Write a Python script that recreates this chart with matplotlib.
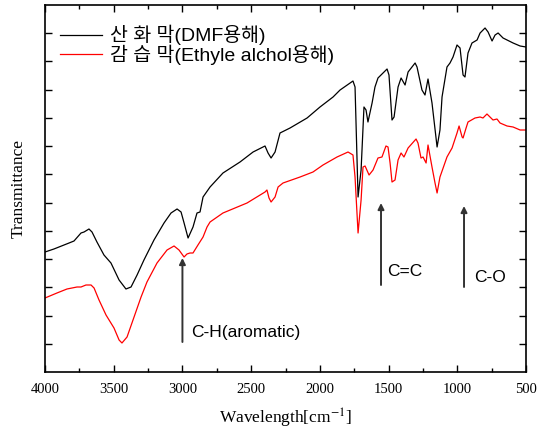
import numpy as np
import matplotlib

matplotlib.use("Agg")
import matplotlib.pyplot as plt

plt.rcParams["mathtext.fontset"] = "stix"

# FT-IR spectra, transmittance in arbitrary units
wn_dmf = [4000, 3935, 3825, 3789, 3738, 3716, 3680, 3658, 3622, 3571, 3520,
          3461, 3411, 3374, 3330, 3280, 3207, 3134, 3083, 3039, 3010, 2988,
          2959, 2923, 2894, 2872, 2850, 2799, 2705, 2581, 2486, 2399, 2377,
          2355, 2326, 2290, 2217, 2093, 1999, 1904, 1853, 1759, 1744, 1722,
          1700, 1679, 1664, 1650, 1620, 1599, 1577, 1511, 1497, 1475, 1460,
          1431, 1409, 1380, 1358, 1307, 1293, 1257, 1235, 1213, 1184, 1147,
          1126, 1111, 1075, 1053, 1031, 1002, 980, 958, 944, 922, 893, 856,
          834, 798, 776, 747, 725, 703, 667, 594, 543, 500]
t_dmf = [120, 123, 129, 131, 139, 140, 143, 140, 130, 117, 109,
         92, 83, 85, 97, 112, 132, 149, 159, 163, 160, 149,
         134, 145, 159, 160, 175, 185, 199, 210, 220, 226, 219,
         214, 220, 239, 244, 254, 265, 275, 282, 291, 285, 175,
         202, 265, 262, 250, 269, 285, 294, 303, 297, 252, 255,
         285, 294, 287, 300, 309, 305, 282, 277, 293, 269, 225,
         242, 275, 305, 309, 315, 327, 324, 297, 295, 319, 329, 332,
         339, 344, 340, 331, 337, 339, 334, 329, 326, 325]

wn_eth = [4000, 3913, 3840, 3767, 3738, 3702, 3665, 3643, 3607, 3556, 3498,
          3461, 3440, 3403, 3352, 3301, 3258, 3185, 3112, 3061, 3025, 2988,
          2967, 2945, 2923, 2887, 2850, 2821, 2799, 2705, 2530, 2399, 2385,
          2370, 2355, 2326, 2304, 2268, 2144, 2050, 1977, 1875, 1795, 1759,
          1744, 1722, 1700, 1686, 1671, 1642, 1613, 1577, 1548, 1519, 1504,
          1489, 1475, 1453, 1431, 1409, 1388, 1358, 1300, 1286, 1264, 1249,
          1227, 1213, 1184, 1162, 1147, 1126, 1075, 1038, 1002, 987, 965,
          958, 936, 922, 871, 834, 813, 784, 762, 740, 711, 689, 638, 594,
          543, 500]
t_eth = [74, 79, 83, 85, 85, 87, 87, 84, 72, 57, 44,
         32, 29, 35, 55, 75, 90, 109, 122, 126, 122, 115,
         118, 119, 119, 127, 135, 145, 150, 159, 169, 180, 182,
         174, 170, 175, 185, 189, 195, 200, 207, 215, 220, 217,
         195, 139, 172, 205, 206, 197, 202, 214, 215, 226, 225,
         209, 190, 192, 212, 219, 215, 224, 233, 229, 214, 215,
         209, 227, 205, 189, 179, 195, 215, 224, 239, 246, 235,
         234, 244, 250, 254, 255, 254, 258, 255, 252, 253, 249, 246, 245,
         242, 242]

labels = ["산 화 막(DMF용해)", "감 습 막(Ethyle alchol용해)"]

# (label, wavenumber, arrow tail, arrow head, text x, text y)
peaks = [("C-H(aromatic)", 3000, 30, 114, 2935, 40),
         ("C=C", 1555, 87, 169, 1511, 100),
         ("C-O", 951, 85, 166, 878, 94)]

YMAX = 367
sans = ["Liberation Sans", "Noto Sans CJK KR"]
serif = "Liberation Serif"

fig = plt.figure(figsize=(5.46, 4.32), dpi=100)
ax = fig.add_axes([45 / 546, 1 - 372 / 432, 481 / 546, 367 / 432])

ax.plot(wn_dmf, t_dmf, color="black", lw=0.9, label=labels[0])
ax.plot(wn_eth, t_eth, color="red", lw=0.9, label=labels[1])

for name, x, y0, y1, tx, ty in peaks:
    ax.annotate("", xy=(x, y1), xytext=(x, y0),
                arrowprops=dict(arrowstyle="-|>", color="#333333", lw=1.4,
                                mutation_scale=9, shrinkA=0, shrinkB=0))
    ax.text(tx, ty, name, ha="left", va="center", fontsize=12.5,
            family=sans)

ax.set_xlim(4000, 500)
ax.set_ylim(0, YMAX)
ax.set_xticks(np.arange(4000, 499, -500))
ax.set_xticks(np.arange(3750, 500, -500), minor=True)
ax.set_yticks(np.linspace(0, YMAX, 14)[1:-1])
ax.set_yticklabels([])
ax.tick_params(which="both", direction="in", top=True, right=True, width=1)
ax.tick_params(which="major", length=5)
ax.tick_params(which="minor", length=3)
ax.tick_params(axis="x", labelsize=10.5, pad=8)
for lab in ax.get_xticklabels():
    lab.set_family(serif)
for sp in ax.spines.values():
    sp.set_linewidth(1.2)

ax.set_xlabel("Wavelength[cm$^{-1}$]", family=serif, fontsize=12.5,
              labelpad=8)
ax.set_ylabel("Transmittance", family=serif, fontsize=12.5, labelpad=10)

leg = ax.legend(loc="upper left", frameon=False, handlelength=2.2,
                handletextpad=0.4, labelspacing=-0.05,
                prop={"family": sans, "size": 14},
                bbox_to_anchor=(0.0, 0.985), borderaxespad=0.35)

fig.savefig("out.png", dpi=100)
